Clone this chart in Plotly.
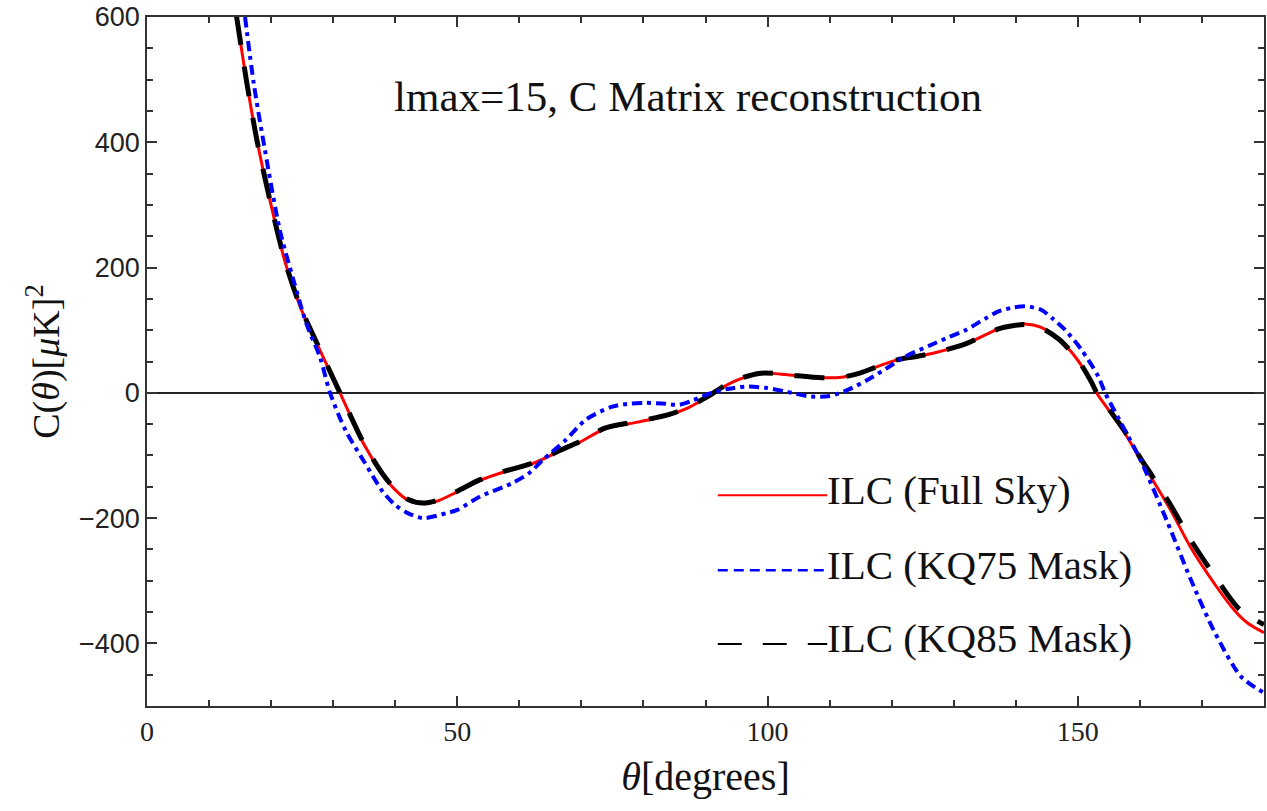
import plotly.graph_objects as go

# ---- data ----
theta_full = [14.4, 16.1, 17.7, 19.8, 22.3, 24.7, 27.3, 31.1, 35, 38, 40, 42, 44.5, 47, 50, 53.6,
              57, 61.6, 63.8, 66.5, 69.7, 73.9, 79.5, 84.3, 87, 89.6, 91, 93, 95, 98.6, 101, 104,
              108.8, 112, 115, 118, 121, 124, 127, 131.9, 135, 137.2, 139.5, 141.5, 144, 146.9,
              150, 152.2, 153, 155, 157.6, 160, 162, 165, 168.2, 172.1, 175.3, 177.4, 180]
c_full = [603, 494, 404, 308, 207, 137, 80, 0, -83, -131, -155, -171, -177, -172, -158, -140,
          -128, -115, -106, -93, -79, -57, -46, -35, -25, -11, -3, 10, 20, 31, 31, 28,
          24, 25, 32, 43, 53, 58, 64, 78, 92, 102, 108, 110, 105, 86,
          52, 16, 0, -28, -65, -105, -138, -188, -247, -306, -348, -368, -383]

theta_kq75 = [15.8, 17.2, 19.0, 21.4, 23.6, 25.7, 27.9, 29.5, 32, 35, 38, 40, 42, 44.5, 48.3, 50,
              53.6, 58.9, 61.6, 63.8, 67.5, 70.7, 75, 78, 80.4, 83, 85.8, 88, 91, 93.5, 96.5,
              99.7, 103, 107, 110, 113, 116, 119, 122.2, 126, 129, 131.9, 135, 137.2, 139.5,
              141.5, 144, 146, 148, 150.5, 153.3, 154.4, 157.6, 160, 164.5, 168.2, 172.1, 176.3, 180]
c_kq75 = [600, 494, 388, 260, 180, 110, 56, 0, -60, -110, -158, -179, -192, -200, -192, -187,
          -166, -144, -128, -107, -75, -43, -22, -17, -16, -17, -19, -12, 0, 6, 10,
          8, 2, -6, -5, 5, 20, 38, 58, 75, 88, 100, 118, 130, 136,
          138, 133, 118, 100, 70, 26, 0, -60, -105, -208, -298, -383, -453, -479]

theta_kq85 = [14.4, 16.1, 17.7, 19.8, 22.3, 24.7, 27.3, 31.1, 35, 38, 40, 42, 44.5, 47, 50, 53.6,
              57, 61.6, 63.8, 66.5, 69.7, 73.9, 79.5, 84.3, 87, 89.6, 91, 93, 95, 98.6, 101, 104,
              108.8, 112, 115, 118, 121, 124, 127, 131.9, 135, 137.2, 139.5, 141.5, 144, 146.9,
              150, 152.2, 153, 155, 157.6, 160, 162, 165, 168.2, 172.1, 176, 180]
c_kq85 = [603, 494, 404, 308, 208, 138, 81, 0, -82, -130, -154, -170, -176, -171, -157, -139,
          -127, -114, -105, -92, -78, -56, -45, -34, -24, -10, -2, 11, 21, 31, 31, 28,
          24, 25, 32, 43, 53, 58, 64, 78, 92, 102, 107, 109, 104, 86,
          53, 17, 1, -26, -62, -103, -133, -180, -235, -293, -345, -370]

names = ["ILC (Full Sky)", "ILC (KQ75 Mask)", "ILC (KQ85 Mask)"]
title_text = "lmax=15, C Matrix reconstruction"

SERIF = "Liberation Serif, Times New Roman, serif"

fig = go.Figure()
fig.add_trace(go.Scatter(x=theta_full, y=c_full, mode="lines", name=names[0],
                         line=dict(color="#ff0000", width=3, shape="spline", smoothing=0.8)))
fig.add_trace(go.Scatter(x=theta_kq85, y=c_kq85, mode="lines", name=names[2],
                         line=dict(color="#000000", width=5, dash="30px,22px",
                                   shape="spline", smoothing=0.8)))
fig.add_trace(go.Scatter(x=theta_kq75, y=c_kq75, mode="lines", name=names[1],
                         line=dict(color="#0000ff", width=4, dash="10px,5px,4px,5px",
                                   shape="spline", smoothing=0.8)))

axis_common = dict(showline=True, linecolor="#333333", linewidth=1.5, mirror="ticks",
                   ticks="inside", tickcolor="#333333", tickwidth=1.5, ticklen=10,
                   showgrid=False)

fig.update_xaxes(range=[0, 180], tickvals=[0, 50, 100, 150], zeroline=False,
                 tickfont=dict(family=SERIF, size=28, color="#222"),
                 minor=dict(dtick=10, ticks="inside", ticklen=6, tickcolor="#333333",
                            tickwidth=1.5, showgrid=False),
                 title=dict(text="<i>θ</i>[degrees]", font=dict(family=SERIF, size=40, color="#111"),
                            standoff=16),
                 **axis_common)
fig.update_yaxes(range=[-500, 600], tickvals=[-400, -200, 0, 200, 400, 600],
                 zeroline=True, zerolinecolor="#222222", zerolinewidth=1.5,
                 tickfont=dict(family="Liberation Sans, Arial, sans-serif", size=27, color="#222"),
                 minor=dict(dtick=50, ticks="inside", ticklen=6, tickcolor="#333333",
                            tickwidth=1.5, showgrid=False),
                 title=dict(text="C(<i>θ</i>)[<i>μ</i>K]<sup>2</sup>",
                            font=dict(family=SERIF, size=38, color="#111"), standoff=8),
                 **axis_common)

# title annotation inside plot
fig.add_annotation(xref="paper", yref="paper", x=0.219, y=0.884, xanchor="left", yanchor="middle",
                   text=title_text, showarrow=False,
                   font=dict(family=SERIF, size=43, color="#111"))

# custom legend
leg_rows = [0.306, 0.197, 0.090]
leg_styles = [dict(color="#ff0000", width=2, dash="solid"),
              dict(color="#0000ff", width=2.5, dash="10px,6px"),
              dict(color="#000000", width=2, dash="24px,21px")]
leg_names = [names[0], names[1], names[2]]
for yy, st, nm in zip(leg_rows, leg_styles, leg_names):
    fig.add_shape(type="line", xref="paper", yref="paper", x0=0.511, x1=0.609, y0=yy, y1=yy,
                  line=st)
    fig.add_annotation(xref="paper", yref="paper", x=0.607, y=yy + 0.008, xanchor="left",
                       yanchor="middle", text=nm, showarrow=False,
                       font=dict(family=SERIF, size=41, color="#111"))

fig.update_layout(width=1267, height=811, autosize=False,
                  margin=dict(l=147, r=1, t=17, b=105),
                  paper_bgcolor="white", plot_bgcolor="white", showlegend=False)

fig.write_html("out.html")
